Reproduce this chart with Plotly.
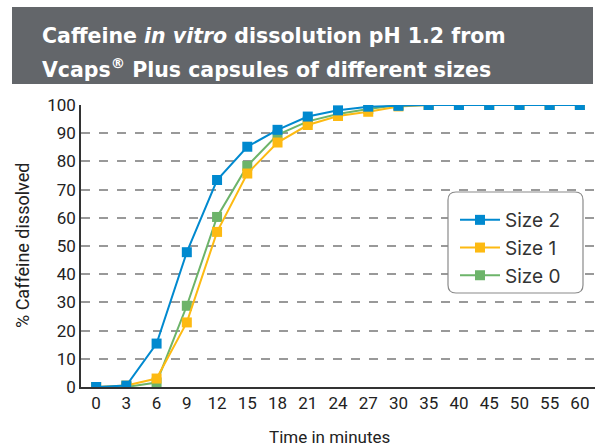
import plotly.graph_objects as go

times = ["0", "3", "6", "9", "12", "15", "18", "21", "24", "27", "30", "35", "40", "45", "50", "55", "60"]
size2 = [0, 0.5, 15.4, 47.8, 73.4, 85.2, 91.2, 95.9, 98.1, 99.4, 99.7, 100, 100, 100, 100, 100, 100]
size1 = [0, 0.5, 3.0, 22.9, 55.0, 75.7, 86.7, 92.9, 96.1, 97.6, 99.5, 100, 100, 100, 100.2, 100.2, 100.2]
size0 = [0, 0, 1.6, 28.8, 60.3, 78.4, 89.4, 94.2, 96.8, 98.6, 100, 100, 100, 100, 100, 100, 100]
y_ticks = list(range(0, 101, 10))

FONT = "Roboto, Liberation Sans, sans-serif"
TITLE_FONT = "DejaVu Sans, Verdana, sans-serif"
BLUE = "#0089CF"
YELLOW = "#FDBA12"
GREEN = "#6DB46A"

fig = go.Figure()
for name, vals, col in [("Size 0", size0, GREEN), ("Size 1", size1, YELLOW), ("Size 2", size2, BLUE)]:
    fig.add_trace(go.Scatter(
        x=times, y=vals, name=name, mode="lines+markers",
        line=dict(color=col, width=2),
        marker=dict(symbol="square", size=10, color=col),
    ))

def px(xp):
    return (xp - 81) / (595 - 81)
def py(yp):
    return (387 - yp) / (387 - 105)

# title banner
fig.add_shape(type="rect", xref="paper", yref="paper", x0=px(12), x1=px(593), y0=py(84), y1=py(7),
              fillcolor="#63666A", line=dict(width=0), layer="above")
fig.add_annotation(xref="paper", yref="paper", x=px(40), y=py(36), xanchor="left", yanchor="middle",
                   showarrow=False, align="left",
                   text="<b>Caffeine <i>in vitro</i> dissolution pH 1.2 from</b>",
                   font=dict(family=TITLE_FONT, size=20.5, color="white"))
fig.add_annotation(xref="paper", yref="paper", x=px(40), y=py(68), xanchor="left", yanchor="middle",
                   showarrow=False, align="left",
                   text="<b>Vcaps<sup>®</sup> Plus capsules of different sizes</b>",
                   font=dict(family=TITLE_FONT, size=20.5, color="white"))

# axis titles
fig.add_annotation(xref="paper", yref="paper", x=px(329), y=py(437), xanchor="center", yanchor="middle",
                   showarrow=False, text="Time in minutes", font=dict(family=FONT, size=17, color="#222"))
fig.add_annotation(xref="paper", yref="paper", x=px(22), y=py(246), xanchor="center", yanchor="middle",
                   showarrow=False, textangle=-90, text="% Caffeine dissolved",
                   font=dict(family=FONT, size=18, color="#222"))

# rounded legend box
x0, x1, y0, y1, r = 448, 583, 192, 293, 8
path = (f"M {px(x0+r)},{py(y0)} L {px(x1-r)},{py(y0)} Q {px(x1)},{py(y0)} {px(x1)},{py(y0+r)} "
        f"L {px(x1)},{py(y1-r)} Q {px(x1)},{py(y1)} {px(x1-r)},{py(y1)} "
        f"L {px(x0+r)},{py(y1)} Q {px(x0)},{py(y1)} {px(x0)},{py(y1-r)} "
        f"L {px(x0)},{py(y0+r)} Q {px(x0)},{py(y0)} {px(x0+r)},{py(y0)} Z")
fig.add_shape(type="path", path=path, xref="paper", yref="paper",
              fillcolor="white", line=dict(color="#8A8A8A", width=1.2), layer="above")

fig.update_layout(
    width=597, height=448,
    margin=dict(l=81, r=2, t=105, b=61),
    paper_bgcolor="white", plot_bgcolor="white",
    font=dict(family=FONT, size=16, color="#222"),
    showlegend=True,
    legend=dict(traceorder="reversed", x=px(455), y=py(201), xanchor="left", yanchor="top",
                bgcolor="rgba(0,0,0,0)", borderwidth=0,
                font=dict(family="Inter, Liberation Sans, sans-serif", size=19, color="#333"),
                itemwidth=40, tracegroupgap=0),
    xaxis=dict(type="category", categoryorder="array", categoryarray=times, automargin=False,
               range=[-0.5, 16.5], showgrid=False, showline=True, linecolor="#333", linewidth=1.5,
               ticks="", tickfont=dict(size=17, color="#222")),
    yaxis=dict(range=[0, 100], tickvals=y_ticks, showgrid=True, gridcolor="#999", griddash="dash",
               gridwidth=1.5, showline=True, linecolor="#333", linewidth=1.5, zeroline=False,
               automargin=False, ticks="", tickfont=dict(size=17, color="#222")),
)

fig.write_html("out.html", config={"displayModeBar": False},
               post_script="document.body.style.margin='0';document.body.style.padding='0';")
